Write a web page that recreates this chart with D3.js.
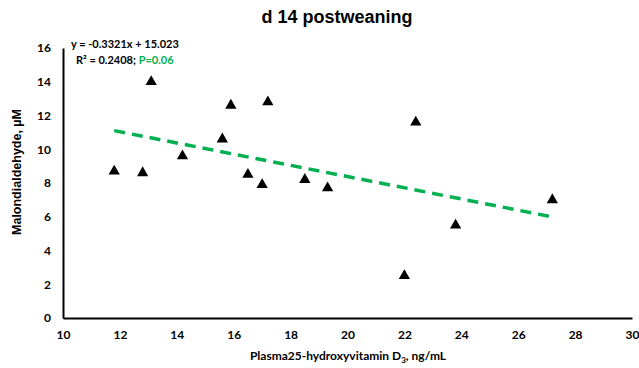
<!DOCTYPE html>
<html><head><meta charset="utf-8">
<script src="https://cdn.jsdelivr.net/npm/d3@7"></script>
<style>body{margin:0;background:#fff}svg{display:block;font-family:Lato,"Open Sans",sans-serif}</style>
</head><body>
<svg id="c" width="639" height="368"></svg>
<script>
const vitD = [11.8, 12.8, 13.1, 14.2, 15.6, 15.9, 16.5, 17.0, 17.2, 18.5, 19.3, 22.0, 22.4, 23.8, 27.2];
const mda  = [8.7, 8.6, 14.0, 9.6, 10.6, 12.6, 8.5, 7.9, 12.8, 8.2, 7.7, 2.5, 11.6, 5.5, 7.0];
const xTicks = [10,12,14,16,18,20,22,24,26,28,30];
const yTicks = [0,2,4,6,8,10,12,14,16];
const slope = -0.3321, intercept = 15.023;
const title = "d 14 postweaning";
const eqText = "y = -0.3321x + 15.023";
const r2Text = "R² = 0.2408; ";
const pText = "P=0.06";

const svg = d3.select("#c");
const x = d3.scaleLinear().domain([10,30]).range([63,632]);
const y = d3.scaleLinear().domain([0,16]).range([318,48]);

svg.append("text").attr("x",337).attr("y",23).attr("text-anchor","middle")
  .attr("font-family","'Liberation Sans',Arial,sans-serif")
  .attr("font-size",18).attr("font-weight","bold").text(title);

const xa = svg.append("g").attr("transform","translate(0,318)")
  .call(d3.axisBottom(x).tickValues(xTicks).tickSize(0).tickPadding(12).tickFormat(d3.format("d")));
const ya = svg.append("g").attr("transform","translate(63,0)")
  .call(d3.axisLeft(y).tickValues(yTicks).tickSize(0).tickPadding(12).tickFormat(d3.format("d")));
[xa,ya].forEach(a=>{
  a.select(".domain").attr("stroke","#000").attr("stroke-width",2);
  a.selectAll("text").attr("font-size",12).attr("font-weight","bold").attr("fill","#000").attr("font-family","Lato,'Open Sans',sans-serif");
});

const xt = svg.append("text").attr("x",348).attr("y",360).attr("text-anchor","middle")
  .attr("font-size",12).attr("font-weight","bold");
xt.append("tspan").text("Plasma25-hydroxyvitamin D");
xt.append("tspan").attr("font-size",8).attr("dy",3).text("3");
xt.append("tspan").attr("dy",-3).text(", ng/mL");

svg.append("text").attr("transform","translate(21,172) rotate(-90)").attr("text-anchor","middle")
  .attr("font-family","'Liberation Sans',Arial,sans-serif")
  .attr("font-size",12.5).attr("font-weight","bold").text("Malondialdehyde, µM");

const xmin = d3.min(vitD), xmax = d3.max(vitD);
svg.append("line").attr("x1",x(xmin)).attr("y1",y(slope*xmin+intercept))
  .attr("x2",x(xmax)).attr("y2",y(slope*xmax+intercept))
  .attr("stroke","#00b050").attr("stroke-width",3.5).attr("stroke-dasharray","11,7");

const tri = d3.symbol().type(d3.symbolTriangle).size(55);
svg.selectAll("path.pt").data(vitD.map((v,i)=>[v,mda[i]])).join("path")
  .attr("class","pt").attr("d",tri)
  .attr("transform",d=>`translate(${x(d[0])},${y(d[1])})`).attr("fill","#000");

svg.append("text").attr("x",71).attr("y",48).attr("font-size",11).attr("font-weight","bold").text(eqText);
const r2 = svg.append("text").attr("x",76).attr("y",64).attr("font-size",11).attr("font-weight","bold");
r2.append("tspan").text(r2Text);
r2.append("tspan").attr("fill","#00b050").text(pText);
</script>
</body></html>
